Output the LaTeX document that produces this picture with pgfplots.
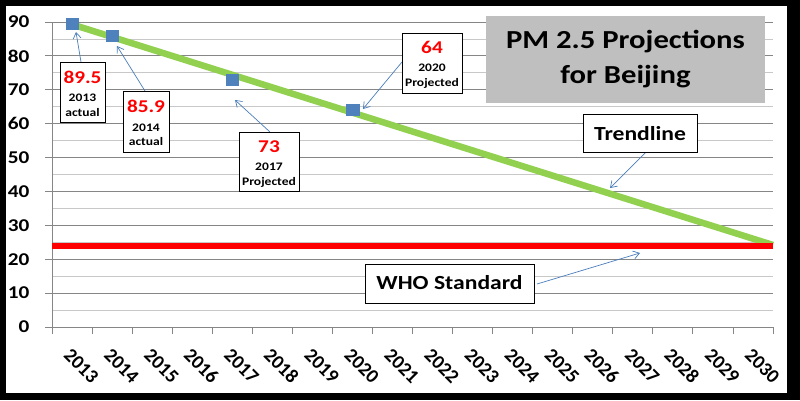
\documentclass[border=0pt]{standalone}
\usepackage{fontspec}
\setmainfont{Carlito}[FakeStretch=1.18]
\newfontfamily\plainfont{Carlito}
\usepackage{pgfplots}
\pgfplotsset{compat=1.18}
\usetikzlibrary{arrows.meta}
\definecolor{gridmaj}{RGB}{134,134,134}
\definecolor{gridmin}{RGB}{200,200,200}
\definecolor{mblue}{RGB}{79,129,189}
\definecolor{tgreen}{RGB}{146,208,80}
\definecolor{arrowblue}{RGB}{74,126,187}
\definecolor{titlegray}{RGB}{191,191,191}
\begin{document}
\begin{tikzpicture}[x=1pt,y=1pt]
\useasboundingbox (0,0) rectangle (800,400);
\fill[black] (0,0) rectangle (800,400);
\fill[white] (6,7) rectangle (787,394);
\begin{axis}[
 at={(52pt,73pt)}, anchor=south west,
 scale only axis, width=721pt, height=305pt,
 xmin=-0.5, xmax=17.5, ymin=0, ymax=90,
 axis lines*=left,
 axis line style={gridmaj, line width=0.8pt},
 xtick={-0.5,0.5,...,17.5},
 x tick label as interval,
 xticklabels={2013,2014,2015,2016,2017,2018,2019,2020,2021,2022,2023,2024,2025,2026,2027,2028,2029,2030},
 ytick={0,10,...,90},
 minor y tick num=1,
 ymajorgrids, yminorgrids,
 major grid style={gridmaj, line width=0.8pt},
 minor grid style={gridmin, line width=0.8pt},
 tick align=outside,
 major tick length=7pt,
 minor tick length=0pt,
 tick style={gridmaj, line width=0.8pt},
 yticklabel style={font=\bfseries\fontsize{18}{18}\selectfont, xshift=-12pt},
 /pgf/number format/assume math mode=true,
 xticklabel style={font=\plainfont\bfseries\fontsize{19.5}{19.5}\selectfont, rotate=-45, anchor=north west, inner sep=0pt, xshift=9pt, yshift=-9pt},
 clip=false,
]
\addplot[only marks, mark=square*, mark size=5.5pt, color=mblue, mark options={xscale=1.15}] coordinates {(0,89.5) (1,85.9) (4,73) (7,64)};
\addplot[tgreen, line width=6.5pt] coordinates {(0,89.3) (17.5,24.2)};
\addplot[red, line width=6pt] coordinates {(-0.5,24) (17.5,24)};
\end{axis}
\tikzset{abox/.style={draw=black, line width=0.9pt, fill=white},
 arr/.style={arrowblue, line width=0.7pt, -{Straight Barb[length=6pt,width=8pt]}},
 big/.style={anchor=base, text=red, font=\bfseries\fontsize{18}{18}\selectfont},
 small/.style={anchor=base, font=\bfseries\fontsize{11.5}{12}\selectfont}}
% 2013
\draw[arr] (81,338) -- (76,368);
\draw[abox] (60,278) rectangle (105,338);
\node[big] at (82.5,316.7) {89.5};
\node[small] at (82.5,298.3) {2013};
\node[small] at (82.5,283.3) {actual};
% 2014
\draw[arr] (145,309) -- (117,354);
\draw[abox] (123,248) rectangle (169,309);
\node[big] at (146,288) {85.9};
\node[small] at (146,269) {2014};
\node[small] at (146,254.3) {actual};
% 2017
\draw[arr] (270,268) -- (235,300);
\draw[abox] (239,209) rectangle (299,268);
\node[big] at (269,247.3) {73};
\node[small] at (269,229.3) {2017};
\node[small] at (269,215) {Projected};
% 2020
\draw[arr] (402,338) -- (363,291);
\draw[abox] (402,307) rectangle (462,367);
\node[big] at (432,346) {64};
\node[small] at (432,328.3) {2020};
\node[small] at (432,313.3) {Projected};
% title
\fill[titlegray] (486,297) rectangle (765,384);
\node[anchor=base, font=\bfseries\fontsize{26}{26}\selectfont] at (625.5,351.7) {PM 2.5 Projections};
\node[anchor=base, font=\bfseries\fontsize{26}{26}\selectfont] at (625.5,316.7) {for Beijing};
% trendline
\draw[arr] (646,248) -- (610,212);
\draw[abox] (583,248) rectangle (697,286);
\node[anchor=base, font=\bfseries\fontsize{20}{20}\selectfont] at (640,260) {Trendline};
% WHO
\draw[arr] (537,116) -- (640,147);
\draw[abox] (365,97) rectangle (534,136);
\node[anchor=base, font=\bfseries\fontsize{20}{20}\selectfont] at (449.5,110.7) {WHO Standard};
\end{tikzpicture}
\end{document}
